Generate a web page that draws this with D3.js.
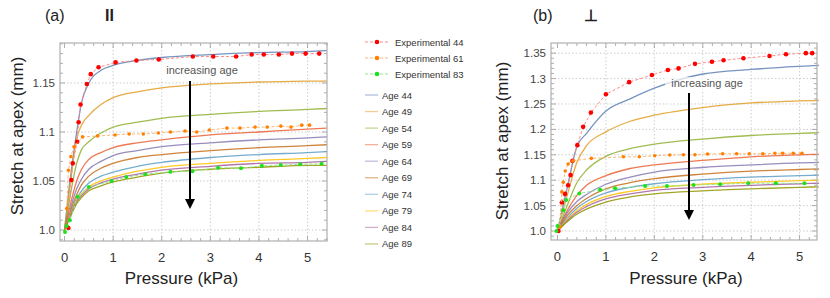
<!DOCTYPE html>
<html>
<head>
  <title>Stretch at apex vs pressure</title>
  <script src="https://d3js.org/d3.v7.min.js"></script>
  <style>
    body { margin: 0; background: #fff; }
    svg text { font-family: "Liberation Sans", Arial, sans-serif; }
  </style>
</head>
<body>
  <div id="chart"></div>

  <script>
    // ---- data ----
    var ages = [44, 49, 54, 59, 64, 69, 74, 79, 84, 89];
    var ageColors = ["#5e81b5", "#e19c24", "#8fb032", "#eb6235", "#8778b3",
                     "#c56e1a", "#5d9ec7", "#ffbf00", "#a5609d", "#929600"];

    // panel (a), parallel
    var pressureA = [0, 0.1, 0.25, 0.35, 0.5, 0.75, 1, 1.5, 2, 3, 4, 5, 5.4];
    var modelA = [
      [1, 1.045, 1.100, 1.130, 1.150, 1.163, 1.168, 1.173, 1.176, 1.179, 1.181, 1.182, 1.183],
      [1, 1.040, 1.093, 1.107, 1.117, 1.128, 1.135, 1.141, 1.145, 1.149, 1.151, 1.152, 1.152],
      [1, 1.030, 1.068, 1.082, 1.090, 1.099, 1.105, 1.110, 1.114, 1.118, 1.121, 1.123, 1.124],
      [1, 1.022, 1.050, 1.062, 1.072, 1.079, 1.084, 1.089, 1.092, 1.097, 1.100, 1.103, 1.104],
      [1, 1.018, 1.042, 1.052, 1.062, 1.070, 1.076, 1.081, 1.085, 1.089, 1.092, 1.094, 1.095],
      [1, 1.016, 1.036, 1.046, 1.055, 1.063, 1.068, 1.074, 1.077, 1.081, 1.084, 1.086, 1.087],
      [1, 1.014, 1.032, 1.040, 1.048, 1.055, 1.059, 1.065, 1.069, 1.074, 1.077, 1.079, 1.080],
      [1, 1.013, 1.030, 1.037, 1.044, 1.050, 1.054, 1.060, 1.064, 1.068, 1.071, 1.073, 1.074],
      [1, 1.012, 1.029, 1.035, 1.042, 1.048, 1.052, 1.057, 1.061, 1.065, 1.068, 1.069, 1.070],
      [1, 1.011, 1.027, 1.033, 1.040, 1.045, 1.049, 1.054, 1.058, 1.062, 1.064, 1.066, 1.066]
    ];
    var exp44A = [[0.08,1.002],[0.14,1.051],[0.17,1.068],[0.26,1.090],[0.29,1.110],[0.33,1.128],
      [0.46,1.149],[0.54,1.159],[0.70,1.166],[1.05,1.171],[1.48,1.173],[1.94,1.174],[2.64,1.177],
      [3.06,1.177],[3.53,1.177],[3.85,1.179],[4.10,1.179],[4.41,1.179],[4.68,1.180],[4.96,1.180],[5.24,1.180]];
    var exp61A = [[0.045,1.022],[0.08,1.061],[0.13,1.075],[0.195,1.085],[0.37,1.095],[0.68,1.096],
      [1.04,1.097],[1.33,1.098],[1.62,1.098],[1.93,1.099],[2.18,1.100],[2.48,1.101],[2.72,1.100],
      [2.98,1.102],[3.34,1.104],[3.61,1.104],[3.92,1.105],[4.17,1.105],[4.45,1.106],[4.66,1.105],
      [4.88,1.107],[5.04,1.107]];
    var exp83A = [[0.01,0.998],[0.045,1.004],[0.11,1.010],[0.27,1.034],[0.50,1.044],[0.97,1.050],
      [1.27,1.054],[1.66,1.057],[2.18,1.0595],[2.63,1.060],[3.16,1.0636],[3.63,1.063],[4.06,1.0656],
      [4.45,1.0663],[4.85,1.067],[5.29,1.0677]];

    // panel (b), perpendicular
    var pressureB = [0, 0.2, 0.4, 0.6, 1, 1.5, 2, 3, 4, 5, 5.4];
    var modelB = [
      [1, 1.085, 1.166, 1.192, 1.236, 1.260, 1.281, 1.309, 1.318, 1.324, 1.326],
      [1, 1.070, 1.135, 1.168, 1.195, 1.216, 1.228, 1.243, 1.252, 1.256, 1.257],
      [1, 1.050, 1.095, 1.120, 1.147, 1.162, 1.171, 1.181, 1.188, 1.192, 1.1935],
      [1, 1.040, 1.070, 1.090, 1.109, 1.123, 1.130, 1.139, 1.146, 1.150, 1.151],
      [1, 1.035, 1.058, 1.072, 1.092, 1.106, 1.116, 1.125, 1.130, 1.134, 1.135],
      [1, 1.030, 1.050, 1.064, 1.083, 1.095, 1.103, 1.112, 1.118, 1.121, 1.122],
      [1, 1.025, 1.045, 1.058, 1.075, 1.086, 1.093, 1.101, 1.106, 1.109, 1.110],
      [1, 1.022, 1.040, 1.052, 1.068, 1.078, 1.085, 1.092, 1.096, 1.099, 1.100],
      [1, 1.020, 1.037, 1.048, 1.063, 1.073, 1.080, 1.086, 1.090, 1.093, 1.094],
      [1, 1.018, 1.033, 1.043, 1.057, 1.067, 1.073, 1.079, 1.083, 1.086, 1.087]
    ];
    var exp44B = [[0.02,1.0],[0.09,1.056],[0.155,1.073],[0.22,1.09],[0.27,1.11],[0.31,1.138],
      [0.41,1.169],[0.53,1.205],[0.69,1.233],[1.0,1.269],[1.48,1.293],[1.95,1.307],[2.28,1.317],
      [2.50,1.320],[2.84,1.329],[3.19,1.333],[3.43,1.336],[3.84,1.340],[4.38,1.3445],[4.72,1.348],
      [5.13,1.350],[5.26,1.350]];
    var exp61B = [[0.05,1.008],[0.09,1.077],[0.12,1.096],[0.16,1.118],[0.22,1.132],[0.32,1.138],
      [0.70,1.143],[1.36,1.146],[1.69,1.146],[2.01,1.148],[2.32,1.1496],[2.60,1.150],[2.84,1.150],
      [3.10,1.1516],[3.41,1.152],[3.70,1.152],[3.96,1.152],[4.24,1.152],[4.49,1.153],[4.65,1.153],
      [4.87,1.153],[5.05,1.153]];
    var exp83B = [[-0.02,1.0],[0.0,1.01],[0.12,1.041],[0.18,1.061],[0.45,1.074],[0.88,1.081],
      [1.19,1.084],[1.81,1.0886],[2.26,1.0886],[2.81,1.0906],[3.36,1.092],[3.94,1.094],
      [4.51,1.094],[5.10,1.094]];

    var expNames = ["Experimental 44", "Experimental 61", "Experimental 83"];
    var expDot = ["#ff0000", "#ff8000", "#1ee01e"];
    var expLine = ["#ff8a8a", "#ffb870", "#8eea8e"];
    var expR = [2.3, 1.8, 2.0];

    var xTicks = [0, 1, 2, 3, 4, 5];
    var yTicksA = [1.0, 1.05, 1.1, 1.15];
    var yTicksB = [1.0, 1.05, 1.1, 1.15, 1.2, 1.25, 1.3, 1.35];
    var yFmt = function(d) { return d === 1 ? "1.0" : String(+d.toFixed(2)); };

    // ---- drawing ----
    var svg = d3.select("#chart").append("svg")
      .attr("width", 830).attr("height", 298);

    function panel(opt) {
      var x = d3.scaleLinear().domain(opt.xDomain).range([opt.left, opt.right]);
      var y = d3.scaleLinear().domain(opt.yDomain).range([opt.bottom, opt.top]);
      var g = svg.append("g");

      // grid
      g.selectAll(".gx").data(xTicks.filter(function(d) { return d > 0; })).enter().append("line")
        .attr("x1", function(d) { return x(d); }).attr("x2", function(d) { return x(d); })
        .attr("y1", opt.top).attr("y2", opt.bottom)
        .attr("stroke", "#c8c8c8").attr("stroke-width", 0.9).attr("stroke-dasharray", "1.5,2");
      g.selectAll(".gy").data(opt.yTicks).enter().append("line")
        .attr("x1", opt.left).attr("x2", opt.right)
        .attr("y1", function(d) { return y(d); }).attr("y2", function(d) { return y(d); })
        .attr("stroke", "#c8c8c8").attr("stroke-width", 0.9).attr("stroke-dasharray", "1.5,2");

      // frame ticks (inward, all sides)
      var xMinor = d3.range(0, 5.5, 0.2), yMinor = d3.range(opt.yDomain[0], opt.yDomain[1], 0.01);
      xMinor.forEach(function(d) {
        var major = Math.abs(d - Math.round(d)) < 1e-6, len = major ? 5 : 3;
        if (x(d) < opt.left || x(d) > opt.right) return;
        g.append("line").attr("x1", x(d)).attr("x2", x(d)).attr("y1", opt.bottom).attr("y2", opt.bottom - len)
          .attr("stroke", "#999").attr("stroke-width", 0.8);
        g.append("line").attr("x1", x(d)).attr("x2", x(d)).attr("y1", opt.top).attr("y2", opt.top + len)
          .attr("stroke", "#999").attr("stroke-width", 0.8);
      });
      yMinor.forEach(function(v) {
        var d = Math.round(v * 100) / 100;
        if (d < opt.yDomain[0] || d > opt.yDomain[1]) return;
        var major = Math.abs(d * 20 - Math.round(d * 20)) < 1e-6, len = major ? 5 : 3;
        g.append("line").attr("x1", opt.left).attr("x2", opt.left + len).attr("y1", y(d)).attr("y2", y(d))
          .attr("stroke", "#999").attr("stroke-width", 0.8);
        g.append("line").attr("x1", opt.right).attr("x2", opt.right - len).attr("y1", y(d)).attr("y2", y(d))
          .attr("stroke", "#999").attr("stroke-width", 0.8);
      });

      // model curves
      var line = d3.line().curve(d3.curveMonotoneX)
        .x(function(d) { return x(d[0]); }).y(function(d) { return y(d[1]); });
      opt.model.forEach(function(vals, i) {
        var pts = opt.pressure.map(function(p, j) { return [p, vals[j]]; });
        g.append("path").attr("d", line(pts)).attr("fill", "none")
          .attr("stroke", ageColors[i]).attr("stroke-width", 1.3).attr("stroke-opacity", 0.85);
      });

      // experimental
      var lin = d3.line().x(function(d) { return x(d[0]); }).y(function(d) { return y(d[1]); });
      opt.exp.forEach(function(pts, i) {
        g.append("path").attr("d", lin(pts)).attr("fill", "none")
          .attr("stroke", expLine[i]).attr("stroke-width", 1).attr("stroke-dasharray", "3,2");
        g.selectAll(".e" + i).data(pts).enter().append("circle")
          .attr("cx", function(d) { return x(d[0]); }).attr("cy", function(d) { return y(d[1]); })
          .attr("r", expR[i]).attr("fill", expDot[i]);
      });

      // frame
      g.append("rect").attr("x", opt.left).attr("y", opt.top)
        .attr("width", opt.right - opt.left).attr("height", opt.bottom - opt.top)
        .attr("fill", "none").attr("stroke", "#b0b0b0").attr("stroke-width", 1.2);

      // tick labels
      g.selectAll(".xl").data(xTicks).enter().append("text")
        .attr("x", function(d) { return x(d); }).attr("y", opt.bottom + 21)
        .attr("text-anchor", "middle").attr("font-size", 13).attr("fill", "#333")
        .text(function(d) { return d; });
      g.selectAll(".yl").data(opt.yTicks).enter().append("text")
        .attr("x", opt.left - 5).attr("y", function(d) { return y(d) + 4; })
        .attr("text-anchor", "end").attr("font-size", 11.5).attr("fill", "#444")
        .text(yFmt);

      // axis titles
      g.append("text").attr("x", (opt.left + opt.right) / 2 + opt.xTitleShift).attr("y", 284)
        .attr("text-anchor", "middle").attr("font-size", 17).attr("fill", "#222")
        .text("Pressure (kPa)");
      g.append("text")
        .attr("transform", "translate(" + opt.yTitleX + "," + opt.yTitleY + ") rotate(-90)")
        .attr("text-anchor", "middle").attr("font-size", 17).attr("fill", "#222")
        .text("Stretch at apex (mm)");

      // panel label
      g.append("text").attr("x", opt.labelX).attr("y", 21).attr("font-size", 16).attr("fill", "#222")
        .text(opt.label);
      g.append("text").attr("x", opt.symX).attr("y", 21).attr("font-size", 16).attr("font-weight", "bold")
        .attr("fill", "#222").text(opt.sym);

      // annotation
      g.append("rect").attr("x", opt.annX - 42).attr("y", opt.annY - 10).attr("width", 84).attr("height", 15)
        .attr("fill", "#fff").attr("fill-opacity", 0.7);
      g.append("text").attr("x", opt.annX).attr("y", opt.annY).attr("text-anchor", "middle")
        .attr("font-size", 11).attr("fill", "#555").text("increasing age");
      g.append("line").attr("x1", opt.arrX).attr("x2", opt.arrX)
        .attr("y1", opt.arrTop).attr("y2", opt.arrTip - 8)
        .attr("stroke", "#000").attr("stroke-width", 2);
      g.append("path")
        .attr("d", "M" + (opt.arrX - 5) + "," + (opt.arrTip - 10) + "L" + (opt.arrX + 5) + "," + (opt.arrTip - 10) +
          "L" + opt.arrX + "," + opt.arrTip + "Z")
        .attr("fill", "#000");
    }

    panel({
      left: 60, right: 327, top: 43, bottom: 241,
      xDomain: [-0.093, 5.4], yDomain: [0.9888, 1.1908], yTicks: yTicksA,
      pressure: pressureA, model: modelA, exp: [exp44A, exp61A, exp83A],
      xTitleShift: -12, yTitleX: 23, yTitleY: 136,
      label: "(a)", labelX: 45, sym: "II", symX: 105,
      annX: 202, annY: 74, arrX: 190, arrTop: 81, arrTip: 209
    });

    panel({
      left: 551, right: 817, top: 43, bottom: 240,
      xDomain: [-0.134, 5.36], yDomain: [0.9823, 1.370], yTicks: yTicksB,
      pressure: pressureB, model: modelB, exp: [exp44B, exp61B, exp83B],
      xTitleShift: 2, yTitleX: 508, yTitleY: 141,
      label: "(b)", labelX: 533, sym: "\u22a5", symX: 584,
      annX: 707, annY: 87, arrX: 689, arrTop: 93, arrTip: 220
    });

    // legend
    var leg = svg.append("g");
    var expRowY = [42, 58, 74];
    expNames.forEach(function(name, i) {
      leg.append("line").attr("x1", 365).attr("x2", 389).attr("y1", expRowY[i]).attr("y2", expRowY[i])
        .attr("stroke", expLine[i]).attr("stroke-width", 1).attr("stroke-dasharray", "3,2");
      leg.append("circle").attr("cx", 377).attr("cy", expRowY[i]).attr("r", 2.3).attr("fill", expDot[i]);
      leg.append("text").attr("x", 395).attr("y", expRowY[i] + 3.5).attr("font-size", 9.5).attr("fill", "#333")
        .text(name);
    });
    ages.forEach(function(a, i) {
      var yy = 95 + i * 16.55;
      leg.append("line").attr("x1", 365).attr("x2", 378).attr("y1", yy).attr("y2", yy)
        .attr("stroke", ageColors[i]).attr("stroke-width", 1.3).attr("stroke-opacity", 0.5);
      leg.append("text").attr("x", 382).attr("y", yy + 3.5).attr("font-size", 9.5).attr("fill", "#333")
        .text("Age " + a);
    });
  </script>
</body>
</html>
